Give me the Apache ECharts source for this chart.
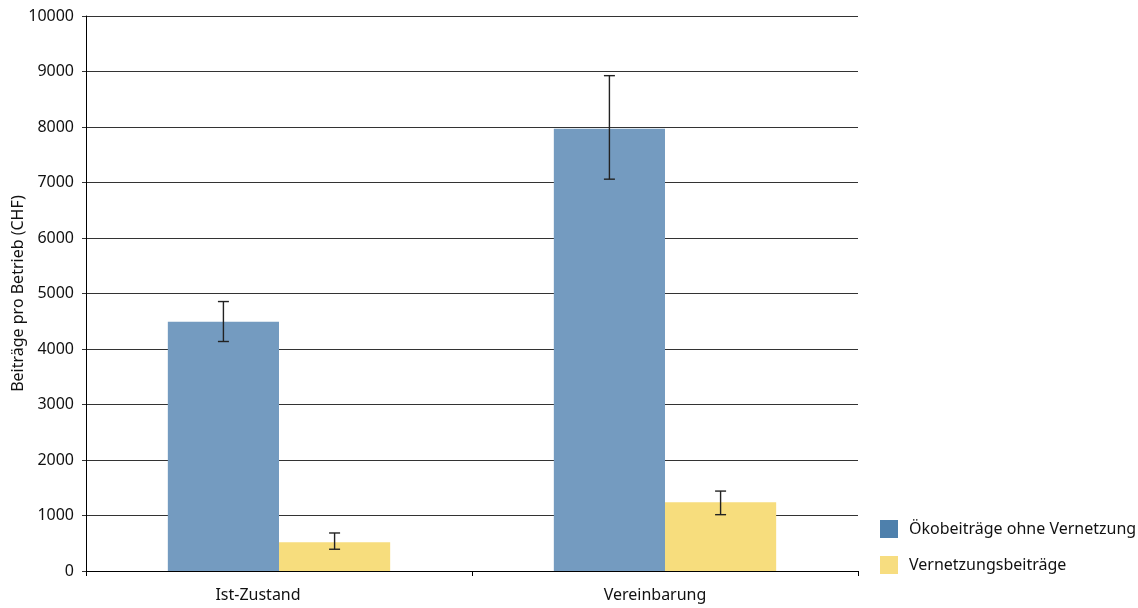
<!DOCTYPE html>
<html><head><meta charset="utf-8">
<script src="https://cdn.jsdelivr.net/npm/echarts@6/dist/echarts.min.js"></script>
<style>html,body{margin:0;padding:0;background:#fff}#c{width:1138px;height:608px}</style>
</head><body><div id="c"></div>
<script>
const categories = ['Ist-Zustand', 'Vereinbarung'];
const yTicks = [0, 1000, 2000, 3000, 4000, 5000, 6000, 7000, 8000, 9000, 10000];
const ecoValues = [4490, 7970];
const ecoLow = [4135, 7060];
const ecoHigh = [4855, 8925];
const netValues = [518, 1240];
const netLow = [392, 1015];
const netHigh = [685, 1440];
const seriesNames = ['Ökobeiträge ohne Vernetzung', 'Vernetzungsbeiträge'];

const FONT = 'Noto Sans';
const BAR_FRAC = 0.288;

function errSeries(low, high, side) {
  return {
    type: 'custom',
    silent: true,
    z: 10,
    data: categories.map((c, i) => [i, low[i], high[i]]),
    renderItem: function (params, api) {
      const i = api.value(0);
      const bandW = api.size([1, 0])[0];
      const off = side * bandW * BAR_FRAC / 2;
      const top = api.coord([i, api.value(2)]);
      const bot = api.coord([i, api.value(1)]);
      const x = top[0] + off;
      const cap = 5.5;
      const st = { stroke: '#222', lineWidth: 1.4 };
      return {
        type: 'group',
        children: [
          { type: 'line', shape: { x1: x, y1: top[1], x2: x, y2: bot[1] }, style: st },
          { type: 'line', shape: { x1: x - cap, y1: top[1], x2: x + cap, y2: top[1] }, style: st },
          { type: 'line', shape: { x1: x - cap, y1: bot[1], x2: x + cap, y2: bot[1] }, style: st }
        ]
      };
    }
  };
}

const chart = echarts.init(document.getElementById('c'), null, { renderer: 'canvas' });
chart.setOption({
  animation: false,
  backgroundColor: '#fff',
  grid: { left: 86, right: 280, top: 16, bottom: 37, containLabel: false, outerBoundsMode: 'none' },
  legend: {
    orient: 'vertical',
    left: 880,
    top: 520,
    padding: 0,
    itemWidth: 18,
    itemHeight: 18,
    itemGap: 18,
    icon: 'rect',
    textStyle: { fontFamily: FONT, fontSize: 16, color: '#111', padding: [0, 0, 0, 6] },
    data: [
      { name: seriesNames[0], itemStyle: { color: '#4E80AC' } },
      { name: seriesNames[1], itemStyle: { color: '#F7DD80' } }
    ]
  },
  xAxis: {
    type: 'category',
    data: categories,
    axisLine: { lineStyle: { color: '#000', width: 1 } },
    axisTick: { show: true, alignWithLabel: false, length: 5, lineStyle: { color: '#000' } },
    axisLabel: {
      fontFamily: FONT, fontSize: 16, color: '#111', margin: 16,
      formatter: (v, i) => (i === 0 ? '{a|' : '{b|') + v + '}',
      rich: {
        a: { fontFamily: FONT, fontSize: 16, color: '#111', padding: [0, 42, 0, 0] },
        b: { fontFamily: FONT, fontSize: 16, color: '#111', padding: [0, 20, 0, 0] }
      }
    },
    splitLine: { show: false }
  },
  yAxis: {
    type: 'value',
    min: 0,
    max: 10000,
    interval: 1000,
    name: 'Beiträge pro Betrieb (CHF)',
    nameLocation: 'middle',
    nameGap: 60,
    nameMoveOverlap: false,
    nameTextStyle: { fontFamily: FONT, fontSize: 16, color: '#111' },
    axisLine: { show: true, lineStyle: { color: '#000', width: 1 } },
    axisTick: { show: true, length: 4, lineStyle: { color: '#333' } },
    axisLabel: { fontFamily: FONT, fontSize: 16, color: '#111', margin: 12,
      formatter: v => yTicks.includes(v) ? String(v) : '' },
    splitLine: { show: true, lineStyle: { color: '#333', width: 1 } }
  },
  series: [
    {
      name: seriesNames[0], type: 'bar', data: ecoValues,
      barWidth: (BAR_FRAC * 100) + '%', barGap: '0%',
      itemStyle: { color: '#749BC0' }
    },
    {
      name: seriesNames[1], type: 'bar', data: netValues,
      barWidth: (BAR_FRAC * 100) + '%', barGap: '0%',
      itemStyle: { color: '#F7DD7D' }
    },
    errSeries(ecoLow, ecoHigh, -1),
    errSeries(netLow, netHigh, 1)
  ]
});
</script></body></html>
